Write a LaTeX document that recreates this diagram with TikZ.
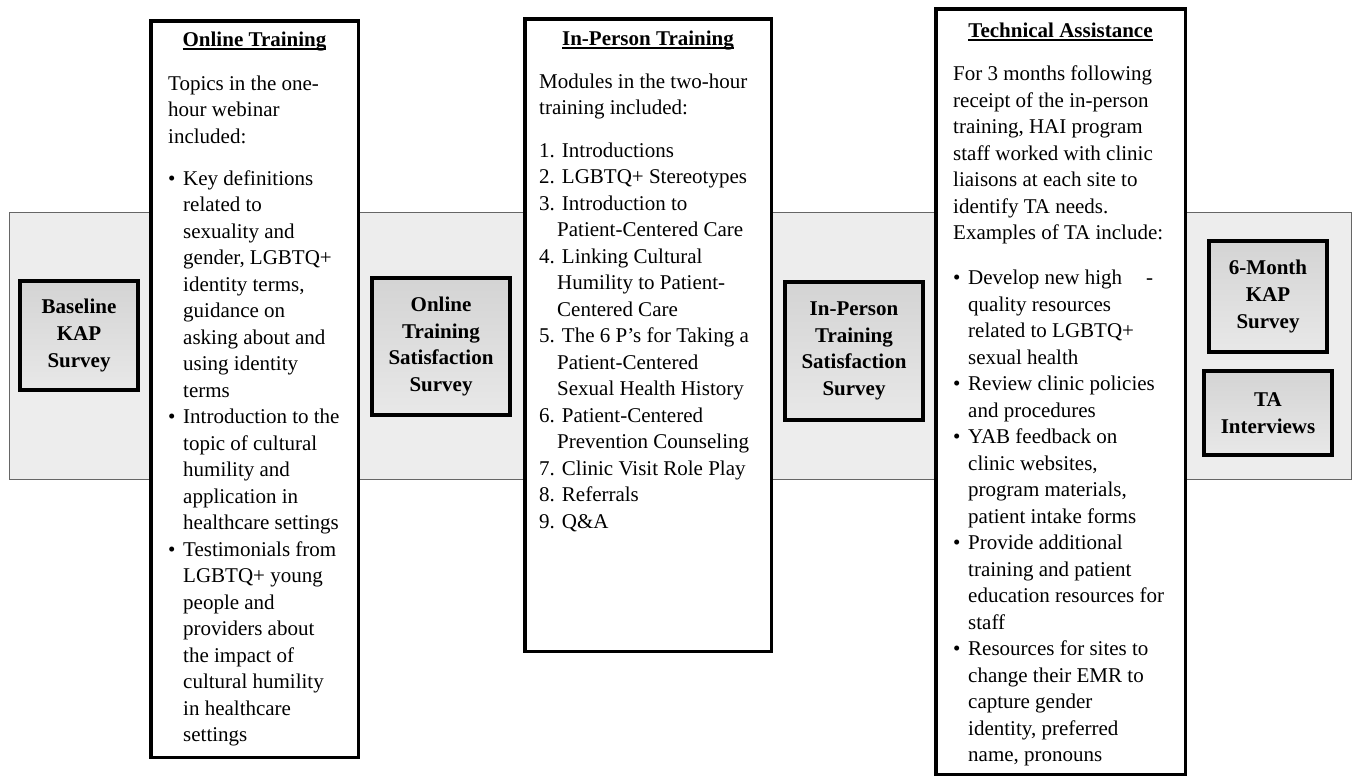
\documentclass[tikz,border=0pt]{standalone}
\usepackage{fontspec}
\setmainfont{Liberation Serif}

\newcommand{\headline}[1]{\setbox0=\hbox{\bfseries #1}\rlap{\rule[-3.5pt]{\wd0}{1.3pt}}\box0}
\newcommand{\bul}{\makebox[15pt][l]{\textbullet}}
\newcommand{\bulind}{\hspace*{15pt}}
\newcommand{\numind}{\hspace*{18pt}}

\tikzset{
  band/.style={draw=gray!80!black, fill=gray!14, line width=1.2pt, inner sep=0pt},
  bigbox/.style={draw=black, fill=white, line width=3.5pt, inner sep=0pt},
  survey/.style={draw=black, line width=4pt, top color=gray!34, bottom color=gray!18,
    inner sep=0pt, align=center, font=\bfseries\fontsize{21}{26.7}\selectfont},
  heading/.style={inner sep=0pt, anchor=base, font=\fontsize{21}{26.5}\selectfont},
  body/.style={inner sep=0pt, anchor=north west, align=left, font=\fontsize{21}{26.5}\selectfont}
}

\begin{document}
\begin{tikzpicture}[x=1pt,y=-1pt]
% \draw[step=100,gray,very thin] (0,0) grid (1356,777);
\useasboundingbox (0,0) rectangle (1356,777);

\node[band, minimum width=1342pt, minimum height=267pt] (band) at (680.5,346) {};

\node[bigbox, minimum width=207.5pt, minimum height=736.5pt] (online) at (254.5,389) {};
\node[bigbox, minimum width=246.5pt, minimum height=632.5pt] (inperson) at (648,335) {};
\node[bigbox, minimum width=249.5pt, minimum height=765.5pt] (techassist) at (1060.5,391.5) {};

\node[survey, minimum width=118pt, minimum height=109pt] (baseline) at (79,335.5) {Baseline\\KAP\\Survey};
\node[survey, minimum width=138pt, minimum height=137pt] (onlinesat) at (441,346.5) {Online\\Training\\Satisfaction\\Survey};
\node[survey, minimum width=138pt, minimum height=138pt] (personsat) at (854,351) {In-Person\\Training\\Satisfaction\\Survey};
\node[survey, minimum width=118pt, minimum height=111pt] (sixmonth) at (1268,296.5) {6-Month\\KAP\\Survey};
\node[survey, minimum width=128pt, minimum height=84pt] (interviews) at (1268,413) {TA\\Interviews};

\node[heading] (onlinehead) at (254.5,46) {\headline{Online Training}};
\node[heading] (inpersonhead) at (648,45) {\headline{In-Person Training}};
\node[heading] (techhead) at (1060.5,37) {\headline{Technical Assistance}};

\node[body] (onlinetext) at (168,75.7) {Topics in the one-\\
hour webinar\\
included:\\[15.5pt]
\bul Key definitions\\
\bulind related to\\
\bulind sexuality and\\
\bulind gender, LGBTQ+\\
\bulind identity terms,\\
\bulind guidance on\\
\bulind asking about and\\
\bulind using identity\\
\bulind terms\\
\bul Introduction to the\\
\bulind topic of cultural\\
\bulind humility and\\
\bulind application in\\
\bulind healthcare settings\\
\bul Testimonials from\\
\bulind LGBTQ+ young\\
\bulind people and\\
\bulind providers about\\
\bulind the impact of\\
\bulind cultural humility\\
\bulind in healthcare\\
\bulind settings};

\node[body] (inpersontext) at (539,73.7) {Modules in the two-hour\\
training included:\\[16pt]
1. Introductions\\
2. LGBTQ+ Stereotypes\\
3. Introduction to\\
\numind Patient-Centered Care\\
4. Linking Cultural\\
\numind Humility to Patient-\\
\numind Centered Care\\
5. The 6 P’s for Taking a\\
\numind Patient-Centered\\
\numind Sexual Health History\\
6. Patient-Centered\\
\numind Prevention Counseling\\
7. Clinic Visit Role Play\\
8. Referrals\\
9. Q\&A};

\node[body] (techtext) at (953,65.7) {For 3 months following\\
receipt of the in-person\\
training, HAI program\\
staff worked with clinic\\
liaisons at each site to\\
identify TA needs.\\
Examples of TA include:\\[18.5pt]
\bul Develop new high\hspace{24pt}-\\
\bulind quality resources\\
\bulind related to LGBTQ+\\
\bulind sexual health\\
\bul Review clinic policies\\
\bulind and procedures\\
\bul YAB feedback on\\
\bulind clinic websites,\\
\bulind program materials,\\
\bulind patient intake forms\\
\bul Provide additional\\
\bulind training and patient\\
\bulind education resources for\\
\bulind staff\\
\bul Resources for sites to\\
\bulind change their EMR to\\
\bulind capture gender\\
\bulind identity, preferred\\
\bulind name, pronouns};
\end{tikzpicture}
\end{document}
